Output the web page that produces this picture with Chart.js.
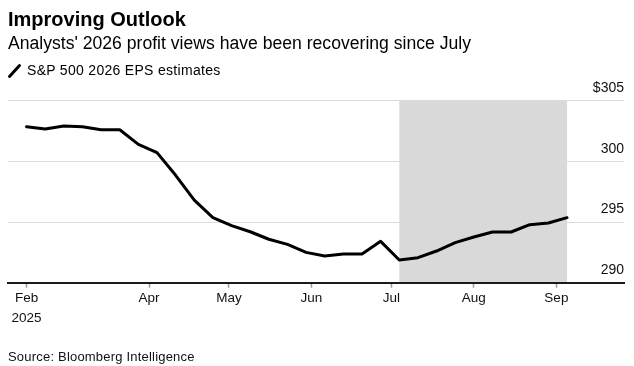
<!DOCTYPE html>
<html>
<head>
<meta charset="utf-8">
<script src="https://cdn.jsdelivr.net/npm/chart.js@4"></script>
<style>
  html, body { margin: 0; padding: 0; background: #fff; }
  #wrap { position: relative; width: 634px; height: 366px; overflow: hidden; font-family: "Liberation Sans", Arial, sans-serif; color: #000; }
  canvas { position: absolute; left: 0; top: 0; }
  .t { position: absolute; white-space: nowrap; line-height: 1; }
  #title { left: 8px; top: 8.6px; font-size: 20px; font-weight: bold; }
  #subtitle { left: 8px; top: 34.6px; font-size: 17.6px; }
  #legend { left: 27px; top: 62.6px; font-size: 14px; letter-spacing: 0.3px; }
  #legicon { position: absolute; left: 7px; top: 63px; }
  #source { left: 8px; top: 350px; font-size: 13px; font-family: "Liberation Sans Narrow", "Arial Narrow", "Liberation Sans", sans-serif; color: #111; letter-spacing: 0.2px; }
</style>
</head>
<body>
<div id="wrap">
  <canvas id="c" width="634" height="366"></canvas>
  <div class="t" id="title">Improving Outlook</div>
  <div class="t" id="subtitle">Analysts' 2026 profit views have been recovering since July</div>
  <svg id="legicon" width="16" height="16"><line x1="2.5" y1="13.5" x2="12.5" y2="2.5" stroke="#000" stroke-width="3" stroke-linecap="round"/></svg>
  <div class="t" id="legend">S&amp;P 500 2026 EPS estimates</div>
  <div class="t" id="source">Source: Bloomberg Intelligence</div>
</div>
<script>
// Day-of-year (2025) of each weekly observation
const weekDays = [45, 52, 59, 66, 73, 80, 87, 94, 101, 108, 115, 122, 129, 136, 143, 150, 157, 164, 171, 178, 185, 192, 199, 206, 213, 220, 227, 234, 241, 248];
// S&P 500 2026 EPS estimates ($)
const epsEstimates = [302.86, 302.67, 302.92, 302.86, 302.61, 302.61, 301.4, 300.72, 298.85, 296.8, 295.36, 294.7, 294.2, 293.58, 293.16, 292.5, 292.2, 292.36, 292.36, 293.41, 291.87, 292.06, 292.61, 293.3, 293.77, 294.18, 294.18, 294.78, 294.92, 295.36];
// x-axis ticks (day-of-year) and labels
const xTickValues = [45, 91, 121, 152, 182, 213, 244];
const xTickLabels = [['Feb', '2025'], 'Apr', 'May', 'Jun', 'Jul', 'Aug', 'Sep'];
// y-axis ticks
const yTickValues = [290, 295, 300, 305];
const yTickLabels = ['290', '295', '300', '$305'];
// shaded period (day-of-year)
const shadeStart = 185;
const shadeEnd = 248;

Chart.defaults.font.family = '"Liberation Sans", Arial, sans-serif';
Chart.defaults.color = '#000';

const shadePlugin = {
  id: 'shade',
  beforeDraw(chart) {
    const {ctx, chartArea, scales} = chart;
    const x0 = scales.x.getPixelForValue(shadeStart);
    const x1 = scales.x.getPixelForValue(shadeEnd);
    ctx.save();
    ctx.fillStyle = '#d9d9d9';
    ctx.fillRect(x0, chartArea.top, x1 - x0, chartArea.bottom - chartArea.top);
    ctx.restore();
  }
};

new Chart(document.getElementById('c'), {
  type: 'line',
  data: {
    datasets: [{
      label: 'S&P 500 2026 EPS estimates',
      data: weekDays.map((d, i) => ({x: d, y: epsEstimates[i]})),
      borderColor: '#000',
      borderWidth: 3,
      pointRadius: 0,
      tension: 0,
      borderJoinStyle: 'round',
      borderCapStyle: 'round',
      fill: false
    }]
  },
  options: {
    responsive: false,
    animation: false,
    devicePixelRatio: 1,
    layout: { padding: { top: 100.7, left: 8, right: 10, bottom: 43.3 } },
    plugins: { legend: { display: false }, tooltip: { enabled: false }, title: { display: false } },
    scales: {
      x: {
        type: 'linear',
        min: 38.03,
        max: 269.4,
        afterBuildTicks: (scale) => { scale.ticks = xTickValues.map(v => ({value: v})); },
        afterFit: (scale) => { scale.height = 40; },
        ticks: {
          autoSkip: false,
          maxRotation: 0,
          padding: 1,
          font: { size: 13.5, lineHeight: 1.45 },
          color: '#111',
          callback: (value, index) => xTickLabels[index]
        },
        grid: { display: true, drawOnChartArea: false, drawTicks: true, tickLength: 5, tickColor: '#9a9a9a', tickWidth: 1.5 },
        border: { display: true, color: '#1a1a1a', width: 2 }
      },
      y: {
        position: 'right',
        min: 290,
        max: 305,
        afterBuildTicks: (scale) => { scale.ticks = yTickValues.map(v => ({value: v})); },
        ticks: {
          mirror: true,
          padding: 0,
          labelOffset: -12.5,
          font: { size: 14 },
          color: '#111',
          callback: (value, index) => yTickLabels[index]
        },
        grid: { color: '#dcdcdc', lineWidth: 1, drawTicks: false },
        border: { display: false }
      }
    }
  },
  plugins: [shadePlugin]
});
</script>
</body>
</html>
